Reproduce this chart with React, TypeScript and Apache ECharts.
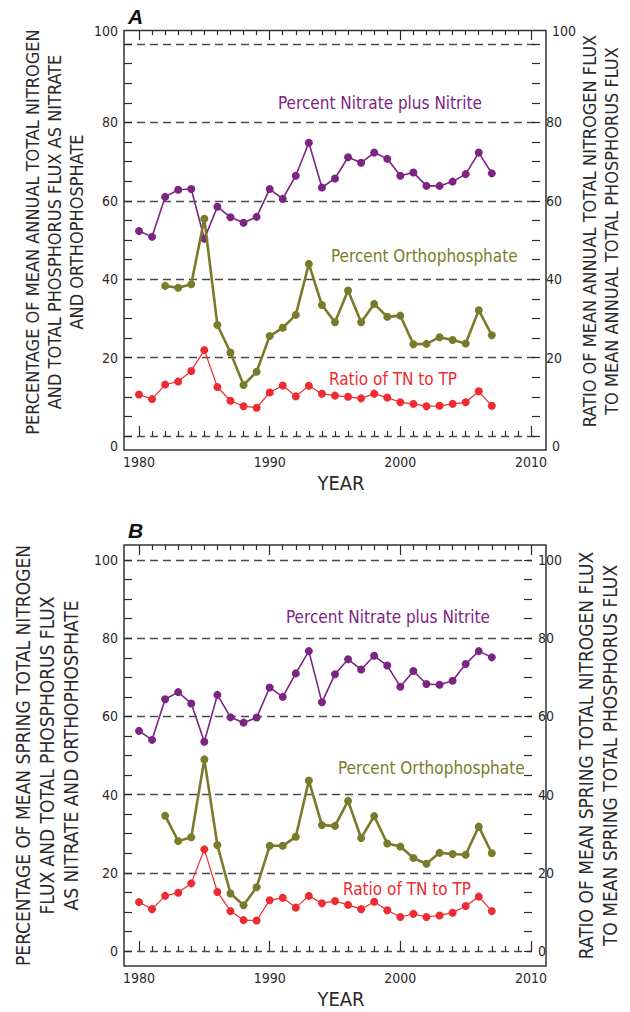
import React, { useEffect, useRef } from "react";
import * as echarts from "echarts";

const years = [1980, 1981, 1982, 1983, 1984, 1985, 1986, 1987, 1988, 1989, 1990, 1991, 1992, 1993, 1994, 1995, 1996, 1997, 1998, 1999, 2000, 2001, 2002, 2003, 2004, 2005, 2006, 2007];

// Panel A (annual)
const nitrateAnnual = [52.3, 50.8, 61.0, 62.8, 63.0, 50.3, 58.5, 55.8, 54.4, 55.9, 63.0, 60.5, 66.4, 74.8, 63.4, 65.7, 71.1, 69.7, 72.3, 70.7, 66.4, 67.2, 63.8, 63.8, 64.9, 66.8, 72.3, 67.0];
const orthoAnnual = [null, null, 38.3, 37.8, 38.7, 55.4, 28.3, 21.3, 13.0, 16.4, 25.5, 27.6, 30.9, 43.9, 33.4, 29.0, 37.1, 29.0, 33.7, 30.4, 30.7, 23.4, 23.5, 25.2, 24.5, 23.6, 32.1, 25.7];
const ratioAnnual = [10.6, 9.4, 13.1, 13.9, 16.6, 21.9, 12.5, 9.0, 7.6, 7.2, 11.1, 12.9, 10.1, 12.8, 10.8, 10.3, 10.0, 9.6, 10.8, 9.8, 8.6, 8.2, 7.6, 7.7, 8.2, 8.6, 11.4, 7.7];

// Panel B (spring)
const nitrateSpring = [56.3, 54.0, 64.4, 66.2, 63.3, 53.5, 65.5, 59.8, 58.4, 59.7, 67.4, 65.0, 71.0, 76.7, 63.6, 70.8, 74.6, 72.0, 75.5, 73.0, 67.6, 71.6, 68.3, 68.1, 69.1, 73.4, 76.7, 75.1];
const orthoSpring = [null, null, 34.6, 28.1, 29.1, 49.0, 27.1, 14.7, 11.7, 16.3, 26.9, 26.9, 29.2, 43.6, 32.2, 32.0, 38.4, 28.9, 34.5, 27.5, 26.7, 23.8, 22.3, 25.1, 24.8, 24.6, 31.8, 25.0];
const ratioSpring = [12.5, 10.7, 14.1, 14.9, 17.3, 26.0, 15.1, 10.2, 7.9, 7.8, 13.0, 13.6, 11.1, 14.1, 12.2, 12.8, 11.8, 10.7, 12.6, 10.4, 8.7, 9.5, 8.7, 9.1, 9.8, 11.5, 13.9, 10.2];

const seriesNames = ["Percent Nitrate plus Nitrite", "Percent Orthophosphate", "Ratio of TN to TP"];
const panelLetters = ["A", "B"];
const leftTitles = [
  "PERCENTAGE OF MEAN ANNUAL TOTAL NITROGEN\nAND TOTAL PHOSPHORUS FLUX AS NITRATE\nAND ORTHOPHOSPHATE",
  "PERCENTAGE OF MEAN SPRING TOTAL NITROGEN\nFLUX AND TOTAL PHOSPHORUS FLUX\nAS NITRATE AND ORTHOPHOSPHATE",
];
const rightTitles = [
  "RATIO OF MEAN ANNUAL TOTAL NITROGEN FLUX\nTO MEAN ANNUAL TOTAL PHOSPHORUS FLUX",
  "RATIO OF MEAN SPRING TOTAL NITROGEN FLUX\nTO MEAN SPRING TOTAL PHOSPHORUS FLUX",
];
const xTitle = "YEAR";

const FONT = "'Liberation Sans Narrow', 'DejaVu Sans Condensed', 'Arial Narrow', sans-serif";
const PURPLE = "#7B2482";
const OLIVE = "#7A7B2A";
const RED = "#EE2B30";
const INK = "#2a2a2a";

function toPairs(vals: (number | null)[]) {
  const out: [number, number][] = [];
  vals.forEach((v, i) => {
    if (v !== null) out.push([years[i], v]);
  });
  return out;
}

export default function App() {
  const ref = useRef<HTMLDivElement>(null);

  useEffect(() => {
    if (!ref.current) return;
    const chart = echarts.init(ref.current, null, { renderer: "svg" });

    const panels = [
      { top: 44, height: 392, xOff: 14, xOffTop: 14, data: [nitrateAnnual, orthoAnnual, ratioAnnual], hideEnds: true, lGap: 37, rGap: 38, lFont: 18, lh: 22, lPad: 16, rPad: 18 },
      { top: 560, height: 391, xOff: 15, xOffTop: 15, data: [nitrateSpring, orthoSpring, ratioSpring], hideEnds: false, lGap: 40, rGap: 42, lFont: 19, lh: 24, lPad: 0, rPad: 0 },
    ];

    const grids: any[] = [];
    const xAxes: any[] = [];
    const yAxes: any[] = [];
    const series: any[] = [];

    const tickStyle = { color: INK, width: 1.2 };
    const labelStyle = { fontSize: 14, fontFamily: FONT, color: INK };

    panels.forEach((p, pi) => {
      const gFrame = pi * 2;
      const gData = pi * 2 + 1;
      grids.push({ left: 124, width: 422, top: p.top, height: p.height });
      grids.push({ left: 139, width: 392, top: p.top, height: p.height });

      xAxes.push({ gridIndex: gFrame, type: "value", min: 0, max: 1, show: false });
      const xBase = {
        gridIndex: gData,
        type: "value",
        min: 1980,
        max: 2010,
        interval: 10,
        axisLine: { show: false },
        axisTick: { show: true, inside: true, length: 10, lineStyle: tickStyle },
        minorTick: { show: true, splitNumber: 10, length: 5, lineStyle: tickStyle },
        splitLine: { show: false },
        minorSplitLine: { show: false },
      };
      xAxes.push({
        ...xBase,
        position: "bottom",
        offset: p.xOff,
        axisLabel: { ...labelStyle, margin: 5, formatter: (v: number) => String(v) },
        name: xTitle,
        nameLocation: "middle",
        nameGap: 23,
        nameTextStyle: { fontSize: 20, fontFamily: FONT, color: INK, padding: [0, 0, 0, 12] },
      });
      xAxes.push({ ...xBase, position: "top", offset: p.xOffTop, axisLabel: { show: false } });

      const yBase = {
        gridIndex: gFrame,
        type: "value",
        min: 0,
        max: 100,
        interval: 20,
        axisLine: { show: false },
        axisTick: { show: true, inside: true, length: 8, lineStyle: tickStyle },
        minorTick: { show: true, splitNumber: 4, length: 8, lineStyle: tickStyle },
        minorSplitLine: { show: false },
      };
      const fmt = (v: number) => (p.hideEnds && (v === 0 || v === 100) ? "" : String(v));
      yAxes.push({
        ...yBase,
        position: "left",
        splitLine: { show: true, lineStyle: { type: [8, 5], color: "#4a4a4a", width: 1.3 } },
        axisLabel: { ...labelStyle, margin: 6, formatter: fmt },
        name: leftTitles[pi],
        nameLocation: "middle",
        nameRotate: 90,
        nameGap: p.lGap,
        nameTextStyle: { fontSize: p.lFont, fontFamily: FONT, color: INK, lineHeight: p.lh, padding: [0, 0, 0, p.lPad] },
      });
      yAxes.push({
        ...yBase,
        position: "right",
        splitLine: { show: false },
        axisLabel: { ...labelStyle, margin: 6, formatter: fmt },
        name: rightTitles[pi],
        nameLocation: "middle",
        nameRotate: 90,
        nameGap: p.rGap,
        nameTextStyle: { fontSize: p.lFont, fontFamily: FONT, color: INK, lineHeight: p.lh, padding: [0, 0, 0, p.rPad] },
      });
      yAxes.push({ gridIndex: gData, type: "value", min: 0, max: 100, show: false });

      const xIdx = pi * 3 + 1;
      const yIdx = pi * 3 + 2;
      const styles = [
        { color: PURPLE, width: 1.6 },
        { color: OLIVE, width: 2.6 },
        { color: RED, width: 1.2 },
      ];
      p.data.forEach((vals, si) => {
        series.push({
          type: "line",
          name: seriesNames[si] + " " + panelLetters[pi],
          xAxisIndex: xIdx,
          yAxisIndex: yIdx,
          data: toPairs(vals),
          symbol: "circle",
          symbolSize: 8,
          itemStyle: { color: styles[si].color },
          lineStyle: { color: styles[si].color, width: styles[si].width },
          z: 3 + si,
        });
      });
    });

    const txt = (text: string, x: number, y: number, fill: string, size: number, align = "left", extra: any = {}) => ({
      type: "text",
      x,
      y,
      silent: true,
      style: { text, fill, fontSize: size, fontFamily: FONT, align, verticalAlign: "middle", ...extra },
    });

    const graphics: any[] = [
      { type: "rect", shape: { x: 124, y: 30.5, width: 422, height: 419.5 }, style: { fill: "none", stroke: "#333", lineWidth: 1.5 }, silent: true, z: 10 },
      { type: "rect", shape: { x: 124, y: 545, width: 422, height: 421 }, style: { fill: "none", stroke: "#333", lineWidth: 1.5 }, silent: true, z: 10 },
      txt(panelLetters[0], 128, 16, "#111", 21, "left", { fontWeight: "bold", fontStyle: "italic", fontFamily: "'Liberation Sans', Arial, sans-serif" }),
      txt(panelLetters[1], 128, 530, "#111", 21, "left", { fontWeight: "bold", fontStyle: "italic", fontFamily: "'Liberation Sans', Arial, sans-serif" }),
      txt("100", 118, 31, INK, 14, "right"),
      txt("0", 118, 446, INK, 14, "right"),
      txt("100", 552, 31, INK, 14, "left"),
      txt("0", 552, 446, INK, 14, "left"),
      txt(seriesNames[0], 278, 103, PURPLE, 17),
      txt(seriesNames[1], 331, 256, OLIVE, 17),
      txt(seriesNames[2], 329, 379, RED, 17),
      txt(seriesNames[0], 286, 617, PURPLE, 17),
      txt(seriesNames[1], 338, 768, OLIVE, 17),
      txt(seriesNames[2], 343, 889, RED, 17),
    ];

    chart.setOption({
      animation: false,
      backgroundColor: "#ffffff",
      grid: grids,
      xAxis: xAxes,
      yAxis: yAxes,
      series,
      graphic: graphics,
    });

    return () => chart.dispose();
  }, []);

  return (
    <div style={{ position: "fixed", left: 0, top: 0, width: 630, height: 1012, background: "#fff" }}>
      <div ref={ref} style={{ width: 630, height: 1012 }} />
    </div>
  );
}
